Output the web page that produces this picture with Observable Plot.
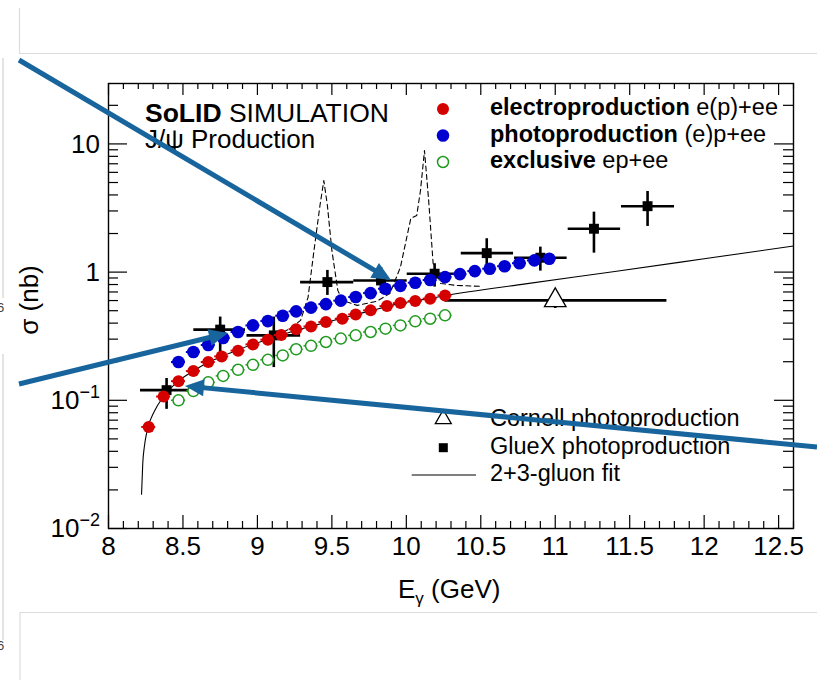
<!DOCTYPE html>
<html>
<head>
<meta charset="utf-8">
<script src="https://cdn.jsdelivr.net/npm/d3@7"></script>
<script src="https://cdn.jsdelivr.net/npm/@observablehq/plot@0.6"></script>
<style>
  html, body { margin: 0; padding: 0; background: #ffffff; }
  #chart { width: 817px; height: 680px; overflow: hidden; }
</style>
</head>
<body>
<div id="chart"></div>
<script>
// ---------------- data ----------------
// electroproduction e(p)+ee  (red filled circles)
const elecE     = [8.27, 8.37, 8.47, 8.57, 8.67, 8.76, 8.87, 8.97, 9.07, 9.16, 9.26, 9.36, 9.46, 9.57, 9.66, 9.76, 9.87, 9.96, 10.06, 10.16, 10.26];
const elecSigma = [0.062, 0.107, 0.141, 0.169, 0.199, 0.220, 0.244, 0.273, 0.297, 0.323, 0.359, 0.377, 0.408, 0.433, 0.468, 0.503, 0.543, 0.573, 0.594, 0.621, 0.658];

// photoproduction (e)p+ee  (blue filled circles)
const photoE     = [8.47, 8.57, 8.67, 8.77, 8.87, 8.97, 9.07, 9.17, 9.26, 9.36, 9.46, 9.56, 9.66, 9.76, 9.86, 9.96, 10.06, 10.16, 10.26, 10.36, 10.46, 10.56, 10.66, 10.76, 10.86, 10.96];
const photoSigma = [0.199, 0.238, 0.270, 0.306, 0.341, 0.384, 0.415, 0.457, 0.494, 0.528, 0.563, 0.599, 0.639, 0.686, 0.742, 0.781, 0.827, 0.867, 0.914, 0.965, 1.018, 1.063, 1.112, 1.173, 1.234, 1.272];

// exclusive ep+ee  (green open circles)
const exclE     = [8.47, 8.57, 8.67, 8.77, 8.87, 8.97, 9.07, 9.17, 9.26, 9.36, 9.46, 9.56, 9.66, 9.76, 9.86, 9.96, 10.06, 10.16, 10.26];
const exclSigma = [0.100, 0.118, 0.138, 0.155, 0.173, 0.189, 0.207, 0.224, 0.250, 0.266, 0.285, 0.303, 0.321, 0.341, 0.362, 0.384, 0.413, 0.433, 0.460];

// GlueX photoproduction (black squares with error bars)
const gluexE       = [8.39, 8.75, 9.11, 9.47, 9.83, 10.19, 10.54, 10.90, 11.26, 11.62];
const gluexSigma   = [0.120, 0.356, 0.321, 0.836, 0.861, 0.972, 1.406, 1.295, 2.179, 3.268];
const gluexSigLo   = [0.085, 0.231, 0.180, 0.658, 0.682, 0.764, 1.044, 1.018, 1.406, 2.271];
const gluexSigHi   = [0.148, 0.446, 0.446, 1.031, 1.088, 1.163, 1.821, 1.566, 2.936, 4.256];
const gluexELo     = [8.215, 8.573, 8.93, 9.29, 9.647, 10.006, 10.369, 10.727, 11.087, 11.445];
const gluexEHi     = [8.562, 8.92, 9.29, 9.647, 10.006, 10.364, 10.72, 11.08, 11.439, 11.801];

// Cornell photoproduction (open triangle)
const cornellE     = [11.0];
const cornellSigma = [0.602];
const cornellELo   = [10.26];
const cornellEHi   = [11.75];
const cornellSigLo = [0.52];
const cornellSigHi = [0.70];

// 2+3-gluon fit (solid line)
const fitE     = [8.222, 8.230, 8.242, 8.260, 8.310, 8.367, 8.465, 8.566, 8.665, 8.764, 8.866, 8.965, 9.066, 9.162, 9.261, 9.363, 9.462, 9.565, 9.659, 9.764, 9.867, 9.961, 10.062, 10.158, 10.259, 10.8, 11.4, 12.0, 12.6];
const fitSigma = [0.0185, 0.032, 0.0446, 0.0584, 0.083, 0.106, 0.140, 0.168, 0.196, 0.221, 0.246, 0.272, 0.298, 0.324, 0.352, 0.378, 0.406, 0.434, 0.466, 0.500, 0.538, 0.570, 0.597, 0.623, 0.655, 0.81, 1.01, 1.27, 1.60];

// dashed curve with the two resonance-like peaks
const dashE     = [9.07, 9.12, 9.22, 9.29, 9.34, 9.38, 9.42, 9.446, 9.47, 9.50, 9.54, 9.57, 9.67, 9.80, 9.89, 9.96, 10.03, 10.07, 10.095, 10.122, 10.15, 10.18, 10.23, 10.33, 10.50];
const dashSigma = [0.30, 0.315, 0.364, 0.42, 0.635, 1.476, 3.31, 5.18, 3.31, 1.476, 0.72, 0.602, 0.55, 0.591, 0.682, 1.088, 2.622, 2.767, 4.33, 8.88, 3.62, 1.169, 0.816, 0.788, 0.774];

// axis ticks and labels
const xTicks      = [8, 8.5, 9, 9.5, 10, 10.5, 11, 11.5, 12, 12.5];
const xTickLabels = ["8", "8.5", "9", "9.5", "10", "10.5", "11", "11.5", "12", "12.5"];
const yTicks      = [0.01, 0.1, 1, 10];
const yTickLabels = [["10", "\u22122"], ["10", "\u22121"], ["1", ""], ["10", ""]];

// ---------------- layout ----------------
const W = 817, H = 680;
const M = {top: 83, right: 24, bottom: 152, left: 108};
const FW = W - M.left - M.right, FH = H - M.top - M.bottom;

const zip = (E, S) => E.map((e, i) => ({E: e, s: S[i]}));
const elec = zip(elecE, elecSigma);
const photo = zip(photoE, photoSigma);
const excl = zip(exclE, exclSigma);
const fit = zip(fitE, fitSigma);
const dash = zip(dashE, dashSigma);
const gluex = gluexE.map((e, i) => ({E: e, s: gluexSigma[i], slo: gluexSigLo[i], shi: gluexSigHi[i], lo: gluexELo[i], hi: gluexEHi[i]}));
const cornell = cornellE.map((e, i) => ({E: e, s: cornellSigma[i], slo: cornellSigLo[i], shi: cornellSigHi[i], lo: cornellELo[i], hi: cornellEHi[i]}));

const xMinor = d3.range(81, 127).map(d => d / 10).filter(d => Math.round(d * 10) % 5 !== 0);
const yMinor = [];
for (const e of [-2, -1, 0, 1]) for (let m = 2; m <= 9; m++) { const v = m * Math.pow(10, e); if (v <= 29.6) yMinor.push(v); }

const RED = "#d40000", BLUE = "#0000d0", GREEN = "#1f9a1f";
const hb = 0.047;

const xLabelOf = new Map(xTicks.map((t, i) => [t, xTickLabels[i]]));

const chart = Plot.plot({
  width: W, height: H,
  marginTop: M.top, marginRight: M.right, marginBottom: M.bottom, marginLeft: M.left,
  x: {type: "linear", domain: [8, 12.6]},
  y: {type: "log", domain: [0.01, 29.6], axis: null},
  style: {fontFamily: "'Liberation Sans', Arial, Helvetica, sans-serif", background: "white", color: "black"},
  marks: [
    // lines
    Plot.line(fit, {x: "E", y: "s", stroke: "black", strokeWidth: 1.1, curve: "monotone-x"}),
    Plot.line(dash, {x: "E", y: "s", stroke: "black", strokeWidth: 1.1, strokeDasharray: "5,3.5"}),
    // GlueX
    Plot.ruleY(gluex, {y: "s", x1: "lo", x2: "hi", stroke: "black", strokeWidth: 2.6}),
    Plot.ruleX(gluex, {x: "E", y1: "slo", y2: "shi", stroke: "black", strokeWidth: 2.6}),
    Plot.dot(gluex, {x: "E", y: "s", symbol: "square", fill: "black", r: 5.6}),
    // Cornell
    Plot.ruleY(cornell, {y: "s", x1: "lo", x2: "hi", stroke: "black", strokeWidth: 2.6}),
    Plot.ruleX(cornell, {x: "E", y1: "slo", y2: "shi", stroke: "black", strokeWidth: 2.6}),
    Plot.dot(cornell, {x: "E", y: "s", symbol: "triangle", fill: "white", stroke: "black", strokeWidth: 1.3, r: 8}),
    // exclusive
    Plot.ruleY(excl, {y: "s", x1: d => d.E - hb, x2: d => d.E + hb, stroke: GREEN, strokeWidth: 1.5}),
    Plot.ruleX(excl, {x: "E", y1: d => d.s * 0.93, y2: d => d.s * 1.07, stroke: GREEN, strokeWidth: 1.5}),
    Plot.dot(excl, {x: "E", y: "s", r: 5.5, fill: "white", stroke: GREEN, strokeWidth: 1.5}),
    // electroproduction
    Plot.ruleY(elec, {y: "s", x1: d => d.E - hb, x2: d => d.E + hb, stroke: RED, strokeWidth: 2}),
    Plot.dot(elec, {x: "E", y: "s", r: 6, fill: RED}),
    // photoproduction
    Plot.ruleY(photo, {y: "s", x1: d => d.E - hb, x2: d => d.E + hb, stroke: BLUE, strokeWidth: 2}),
    Plot.dot(photo, {x: "E", y: "s", r: 6.3, fill: BLUE}),
    // frame & inward ticks (ROOT style)
    Plot.frame({stroke: "black", strokeWidth: 1.4}),
    Plot.tickX(xTicks, {x: d => d, insetTop: FH - 13, stroke: "black", strokeWidth: 1.2}),
    Plot.tickX(xMinor, {x: d => d, insetTop: FH - 7, stroke: "black", strokeWidth: 1.2}),
    Plot.tickX(xTicks, {x: d => d, insetBottom: FH - 12, stroke: "black", strokeWidth: 1.2}),
    Plot.tickX(xMinor, {x: d => d, insetBottom: FH - 6, stroke: "black", strokeWidth: 1.2}),
    Plot.tickY(yTicks, {y: d => d, insetRight: FW - 19, stroke: "black", strokeWidth: 1.2}),
    Plot.tickY(yMinor, {y: d => d, insetRight: FW - 10, stroke: "black", strokeWidth: 1.2}),
    Plot.tickY(yTicks, {y: d => d, insetLeft: FW - 19, stroke: "black", strokeWidth: 1.2}),
    Plot.tickY(yMinor, {y: d => d, insetLeft: FW - 10, stroke: "black", strokeWidth: 1.2}),
    Plot.axisX(xTicks, {tickSize: 0, tickPadding: 8, fontSize: 26, tickFormat: d => xLabelOf.get(d), label: null})
  ]
});

document.getElementById("chart").appendChild(chart);

// ---------------- annotations on top ----------------
const svg = d3.select(chart);
const ys = chart.scale("y");
const yPx = ys.apply ? (v => ys.apply(v)) : d3.scaleLog(ys.domain, ys.range);
const FONT = "'Liberation Sans', Arial, Helvetica, sans-serif";

function txt(x, y, size, anchor) {
  return svg.append("text").attr("x", x).attr("y", y).attr("font-family", FONT).attr("font-size", size)
    .attr("fill", "black").attr("text-anchor", anchor || "start");
}

// y tick labels with superscripts
yTicks.forEach((v, i) => {
  const [base, sup] = yTickLabels[i];
  const t = txt(M.left - 8, yPx(v), 26, "end").attr("dy", "0.36em");
  t.append("tspan").text(base);
  if (sup) t.append("tspan").attr("font-size", 18).attr("dy", -11).text(sup);
});

// axis titles
const xt = txt(398, 598, 26, "start");
xt.append("tspan").text("E");
xt.append("tspan").attr("font-size", 17).attr("dy", 6).text("\u03b3");
xt.append("tspan").attr("dy", -6).text(" (GeV)");

txt(0, 0, 26, "middle").attr("transform", "translate(38,300) rotate(-90)").text("\u03c3 (nb)");

// title block
function mixed(x, y, size, parts) {
  const t = txt(x, y, size, "start");
  parts.forEach(([s, bold]) => t.append("tspan").attr("font-weight", bold ? "bold" : "normal").text(s));
}
mixed(145, 122, 26.5, [["SoLID", true], [" SIMULATION", false]]);
mixed(145, 147.5, 26, [["J/\u03c8 Production", false]]);

// legend (top right)
svg.append("circle").attr("cx", 443).attr("cy", 109).attr("r", 6).attr("fill", RED);
svg.append("circle").attr("cx", 443).attr("cy", 135.5).attr("r", 6.3).attr("fill", BLUE);
svg.append("circle").attr("cx", 443).attr("cy", 162).attr("r", 5.5).attr("fill", "white").attr("stroke", GREEN).attr("stroke-width", 1.5);
mixed(490, 115, 23.5, [["electroproduction", true], [" e(p)+ee", false]]);
mixed(490, 141.7, 23.5, [["photoproduction", true], [" (e)p+ee", false]]);
mixed(490, 168, 23.5, [["exclusive", true], [" ep+ee", false]]);

// legend (bottom)
svg.append("path").attr("d", d3.symbol(d3.symbolTriangle, 64 * Math.PI * 0.55)()).attr("transform", "translate(443.3,419)")
  .attr("fill", "white").attr("stroke", "black").attr("stroke-width", 1.3);
svg.append("rect").attr("x", 438.8).attr("y", 443.2).attr("width", 9).attr("height", 9).attr("fill", "black");
svg.append("line").attr("x1", 411.7).attr("x2", 476).attr("y1", 475).attr("y2", 475).attr("stroke", "black").attr("stroke-width", 1.1);
mixed(490, 425.5, 23.5, [["Cornell photoproduction", false]]);
mixed(490, 453.5, 23.5, [["GlueX photoproduction", false]]);
mixed(490, 480.5, 23.5, [["2+3-gluon fit", false]]);

// screenshot panel edges
const G = "#dcdcdc";
svg.append("path").attr("d", "M19.5,8 V53.5 H817").attr("fill", "none").attr("stroke", G).attr("stroke-width", 1.2);
svg.append("path").attr("d", "M817,612.5 H20 V680").attr("fill", "none").attr("stroke", G).attr("stroke-width", 1.2);
svg.append("path").attr("d", "M3,58 V298 M3,354 V640").attr("fill", "none").attr("stroke", "#c8c8c8").attr("stroke-width", 1);
txt(-3, 312, 13, "start").attr("fill", "#444").text("6");
txt(-3, 650, 13, "start").attr("fill", "#444").text("6");

// blue arrows
const ARROW = "#17659c";
function arrow(x0, y0, x1, y1) {
  const dx = x1 - x0, dy = y1 - y0, L = Math.hypot(dx, dy);
  const ux = dx / L, uy = dy / L, px = -uy, py = ux;
  const hl = 19, hw = 8.5;
  const bx = x1 - ux * hl, by = y1 - uy * hl;
  svg.append("line").attr("x1", x0).attr("y1", y0).attr("x2", bx + ux * 2).attr("y2", by + uy * 2)
    .attr("stroke", ARROW).attr("stroke-width", 5);
  svg.append("path").attr("d", `M${x1},${y1} L${bx + px * hw},${by + py * hw} L${bx - px * hw},${by - py * hw} Z`).attr("fill", ARROW);
}
arrow(19, 60, 391, 280);
arrow(19, 384, 228, 333);
arrow(817, 447, 185, 386);
</script>
</body>
</html>
